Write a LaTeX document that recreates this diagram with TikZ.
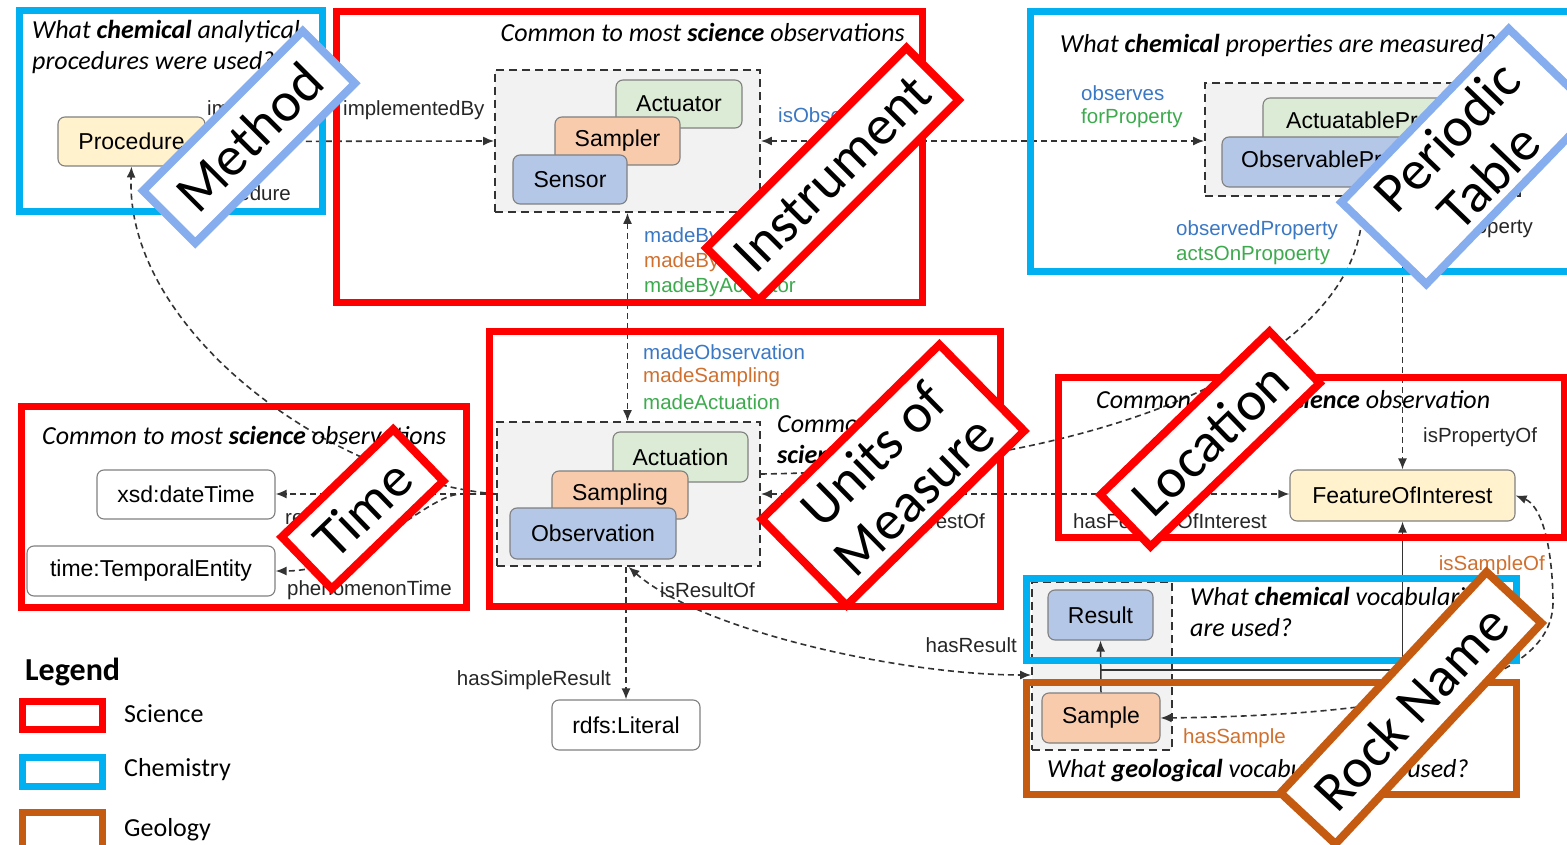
\documentclass[tikz,border=0pt]{standalone}
\usepackage{fontspec}
\setmainfont{Carlito}
\newfontfamily\arialf{Liberation Sans}
\usetikzlibrary{arrows.meta}
\definecolor{sred}{HTML}{FF0000}
\definecolor{scyan}{HTML}{00B0F0}
\definecolor{sbrown}{HTML}{C55A11}
\definecolor{tagblue}{HTML}{86ADEE}
\definecolor{fyellow}{HTML}{FFF2CC}
\definecolor{fblue}{HTML}{B4C7E7}
\definecolor{forange}{HTML}{F8CBAD}
\definecolor{fgreen}{HTML}{DCEBD5}
\definecolor{fgrp}{HTML}{F2F2F2}
\definecolor{lblue}{HTML}{3B78C4}
\definecolor{lorange}{HTML}{D0702E}
\definecolor{lgreen}{HTML}{3DAA4E}
\definecolor{edgec}{HTML}{333333}
\tikzset{
  cls/.style={draw=black!50, line width=1.1pt, rounded corners=7pt, inner sep=0pt, font=\arialf\fontsize{23}{26}\selectfont},
  grpbox/.style={draw=edgec, fill=fgrp, line width=1.8pt, dash pattern=on 8pt off 5pt, inner sep=0pt},
  lbl/.style={font=\arialf\fontsize{20.5}{24}\selectfont, inner sep=0pt, text=black!85},
  conn/.style={draw=edgec, line width=1.6pt, dash pattern=on 6pt off 4pt},
  solidconn/.style={draw=edgec, line width=1.5pt},
  tipe/.style={-{Latex[length=11pt,width=9pt]}},
  tipb/.style={{Latex[length=11pt,width=9pt]}-{Latex[length=11pt,width=9pt]}},
  head/.style={font=\itshape\fontsize{26}{31}\selectfont, inner sep=0pt, align=left},
  frame/.style={line width=7pt},
  tag/.style={fill=white, line width=8pt, inner sep=0pt, align=center, font=\fontsize{56}{58}\selectfont},
  legtext/.style={anchor=west, inner sep=0pt, font=\fontsize{26}{30}\selectfont},
}
\begin{document}
\begin{tikzpicture}[x=1pt,y=-1pt]
\useasboundingbox (0,0) rectangle (1567,845);

% ---------- groups and classes ----------
\node[grpbox, minimum width=265pt, minimum height=142pt] (sgrp) at (627.5,141) {};
\node[cls, fill=fgreen, minimum width=126pt, minimum height=48pt] (actuator) at (679,104) {Actuator};
\node[cls, fill=forange, minimum width=125pt, minimum height=48pt] (sampler) at (617.5,141) {Sampler};
\node[cls, fill=fblue, minimum width=114pt, minimum height=49pt] (sensor) at (570,179.5) {Sensor};

\node[grpbox, minimum width=315pt, minimum height=113pt] (opgrp) at (1362.5,139.5) {};
\node[cls, fill=fgreen, minimum width=242pt, minimum height=50pt] (actprop) at (1384,123) {ActuatableProperty};
\node[cls, fill=fblue, minimum width=243pt, minimum height=50pt] (obsprop) at (1343.5,162) {ObservableProperty};

\node[grpbox, minimum width=263pt, minimum height=144pt] (obsgrp) at (628.5,494) {};
\node[cls, fill=fgreen, minimum width=135pt, minimum height=50pt] (actuation) at (680.5,457) {Actuation};
\node[cls, fill=forange, minimum width=136pt, minimum height=48pt] (sampling) at (620,495) {Sampling};
\node[cls, fill=fblue, minimum width=166pt, minimum height=51pt] (observation) at (593,533.5) {Observation};

\node[grpbox, minimum width=140pt, minimum height=168pt] (resgrp) at (1102,666) {};
\node[cls, fill=fblue, minimum width=105pt, minimum height=50pt] (result) at (1100.5,615) {Result};
\node[cls, fill=forange, minimum width=118pt, minimum height=50pt] (sample) at (1101,718) {Sample};

\node[cls, fill=fyellow, minimum width=147pt, minimum height=49pt] (proc) at (131.5,141.5) {Procedure};
\node[cls, fill=white, minimum width=178pt, minimum height=49pt] (xsd) at (186,494.5) {xsd:dateTime};
\node[cls, fill=white, minimum width=248pt, minimum height=50pt] (temporal) at (151,571) {time:TemporalEntity};
\node[cls, fill=white, minimum width=148pt, minimum height=50pt] (literal) at (626,725) {rdfs:Literal};
\node[cls, fill=fyellow, minimum width=225pt, minimum height=51pt] (foi) at (1402.5,495.5) {FeatureOfInterest};

% ---------- connectors ----------
\draw[conn, tipb] (proc.east) -- (sgrp.west);
\draw[conn, tipb] (sgrp.east) -- (sgrp.east -| opgrp.west);
\draw[conn, tipb] (sgrp.south) -- (sgrp.south |- obsgrp.north);
\draw[conn, tipe] (obsgrp.west) .. controls (330,480) and (125,330) .. (proc.south);
\draw[conn, tipe] (obsgrp.west) -- (obsgrp.west -| xsd.east);
\draw[conn, tipe] (obsgrp.west) -- (460,494) .. controls (425,496) and (360,571) .. (temporal.east);
\draw[conn, tipe] (literal.north |- obsgrp.south) -- (literal.north);
\draw[conn, tipb] (obsgrp.south) .. controls (700,630) and (900,675) .. ([yshift=-9pt]resgrp.west);
\draw[conn, tipb] (obsgrp.east) -- (obsgrp.east -| foi.west);
\draw[conn, tipe] ([yshift=20pt]obsgrp.east) .. controls (1100,470) and (1362,360) .. (opgrp.south);
\draw[conn, tipb] (foi.north |- opgrp.south) -- (foi.north);
\draw[solidconn, tipe] (sample.north) -- (result.south);
\coordinate (jn) at (1101,670);
\draw[solidconn, tipe] (jn) -| (foi.south);
\draw[conn, tipb] (sample.east) .. controls (1420,715) and (1555,680) .. (1553,600) .. controls (1552,540) and (1540,505) .. (foi.east);

% ---------- connector labels ----------
\node[lbl, anchor=west] (l1) at (207,110) {implements};
\node[lbl, anchor=east] (l2) at (291,193) {usedProcedure};
\node[lbl, anchor=west] (l3) at (343,110) {implementedBy};
\node[lbl, anchor=west, text=lblue] (l4) at (778,117) {isObservedBy};
\node[lbl, anchor=west, text=lblue] (l5) at (1081,93) {observes};
\node[lbl, anchor=west, text=lgreen] (l6) at (1081,118) {forProperty};
\node[lbl, anchor=west, text=lblue] (l7) at (644,237) {madeBySensor};
\node[lbl, anchor=west, text=lorange] (l8) at (644,262) {madeBySampler};
\node[lbl, anchor=west, text=lgreen] (l9) at (644,287) {madeByActuator};
\node[lbl, anchor=west, text=lblue] (l10) at (643,352) {madeObservation};
\node[lbl, anchor=west, text=lorange] (l11) at (643,377) {madeSampling};
\node[lbl, anchor=west, text=lgreen] (l12) at (643,402) {madeActuation};
\node[lbl, anchor=west, text=lblue] (l13) at (1176,230) {observedProperty};
\node[lbl, anchor=west, text=lgreen] (l14) at (1176,255) {actsOnPropoerty};
\node[lbl, anchor=east] (l15) at (1533,228) {hasProperty};
\node[lbl, anchor=west] (l16) at (1423,437) {isPropertyOf};
\node[lbl, anchor=west] (l17) at (285,517) {resultTime};
\node[lbl, anchor=west] (l18) at (287,590) {phenomenonTime};
\node[lbl, anchor=west] (l19) at (660,590) {isResultOf};
\node[lbl, anchor=east] (l20) at (611,680) {hasSimpleResult};
\node[lbl, anchor=east] (l21) at (1017,645) {hasResult};
\node[lbl, anchor=east] (l22) at (985,521) {isFeatureOfInterestOf};
\node[lbl, anchor=west] (l23) at (1073,521) {hasFeatureOfInterest};
\node[lbl, anchor=east, text=lorange] (l24) at (1545,565) {isSampleOf};
\node[lbl, anchor=west, text=lorange] (l25) at (1183,738) {hasSample};

% ---------- headings ----------
\node[head, anchor=west] (h1) at (32,46.5) {What \textbf{chemical} analytical\\procedures were used?};
\node[head, anchor=east] (h2) at (905,32) {Common to most \textbf{science} observations};
\node[head, anchor=west] (h3) at (1060,45) {What \textbf{chemical} properties are measured?};
\node[head, anchor=west] (h4) at (42,435) {Common to most \textbf{science} observations};
\node[head, anchor=west] (h5) at (777,440) {Common to most\\\textbf{science} observations};
\node[head, anchor=west] (h6) at (1096,399) {Common to most \textbf{science} observation};
\node[head, anchor=west] (h7) at (1190,611.5) {What \textbf{chemical} vocabularies\\are used?};
\node[head, anchor=west] (h8) at (1047,771) {What \textbf{geological} vocabularies are used?};

% ---------- domain frames ----------
\draw[frame, scyan] (19,11) rectangle (322,212);
\draw[frame, sred] (336,12) rectangle (922,302);
\draw[frame, scyan] (1030,12) rectangle (1590,272);
\draw[frame, sred] (21,406) rectangle (466,607);
\draw[frame, sred] (489,331) rectangle (1000,606);
\draw[frame, sred] (1058,377) rectangle (1564,537);
\draw[frame, scyan] (1026,578) rectangle (1516,660);
\draw[frame, sbrown] (1026,682) rectangle (1516,794);

% ---------- legend ----------
\node[anchor=west, inner sep=0pt, font=\bfseries\fontsize{32}{36}\selectfont] (leg) at (25,672) {Legend};
\draw[frame, sred] (22,701) rectangle (102,729);
\draw[frame, scyan] (22,757) rectangle (102,786);
\draw[frame, sbrown] (22,812) rectangle (102,852);
\node[legtext] (lg1) at (124,714) {Science};
\node[legtext] (lg2) at (124,770) {Chemistry};
\node[legtext] (lg3) at (124,830) {Geology};

% ---------- overlay tags ----------
\node[tag, draw=tagblue, rotate=45, minimum width=226pt, minimum height=74pt] (tmethod) at (249,137) {Method};
\node[tag, draw=sred, rotate=45, minimum width=283pt, minimum height=74pt] (tinstr) at (832.5,174) {Instrument};
\node[tag, draw=tagblue, rotate=46, minimum width=241pt, minimum height=118pt] (tperiod) at (1467.5,156.5) {Periodic\\Table};
\node[tag, draw=sred, rotate=44, minimum width=155pt, minimum height=72pt] (ttime) at (362.5,509) {Time};
\node[tag, draw=sred, rotate=44.5, minimum width=249pt, minimum height=121pt] (tunits) at (893,475) {Units of\\Measure};
\node[tag, draw=sred, rotate=44, minimum width=235pt, minimum height=72pt] (tloc) at (1210,439) {Location};
\node[tag, draw=sbrown, rotate=47, minimum width=302pt, minimum height=75pt] (trock) at (1411,708) {Rock Name};
\end{tikzpicture}
\end{document}
